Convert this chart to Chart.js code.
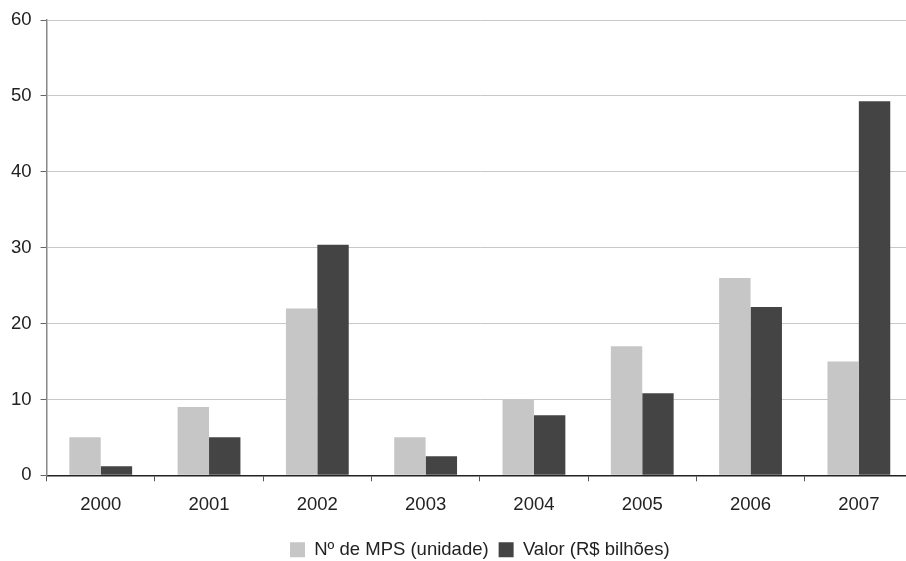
<!DOCTYPE html>
<html lang="pt">
<head>
  <meta charset="UTF-8">
  <title>MPS por ano</title>
  <script src="https://cdn.jsdelivr.net/npm/chart.js"></script>
  <style>
    * { margin: 0; padding: 0; box-sizing: border-box; }
    body { background: #fff; width: 906px; height: 561px; overflow: hidden; }
    .wrap { position: relative; width: 913px; height: 561px; }
  </style>
</head>
<body>
  <div class="wrap">
    <canvas id="chart"></canvas>
  </div>

  <script>
    const years = ['2000', '2001', '2002', '2003', '2004', '2005', '2006', '2007'];
    const numMps = [5, 9, 22, 5, 10, 17, 26, 15];
    const valorBilhoes = [1.2, 5, 30.4, 2.5, 7.9, 10.8, 22.2, 49.3];
    const yTicks = [0, 10, 20, 30, 40, 50, 60];

    // center the legend under the plot area and nudge it down a little
    const legendUnderPlot = {
      id: 'legendUnderPlot',
      beforeDraw(chart) {
        const lg = chart.legend;
        const w = lg.right - lg.left;
        const mid = (chart.chartArea.left + chart.chartArea.right) / 2;
        lg.left = mid - w / 2;
        lg.right = mid + w / 2;
        lg.top += 1;
        lg.bottom += 1;
      }
    };

    Chart.defaults.font.family = '"Liberation Sans", Arial, sans-serif';
    Chart.defaults.font.size = 18.5;
    Chart.defaults.color = '#222';

    new Chart(document.getElementById('chart'), {
      type: 'bar',
      data: {
        labels: years,
        datasets: [
          {
            label: 'Nº de MPS (unidade)',
            data: numMps,
            backgroundColor: '#c6c6c6',
            categoryPercentage: 0.58,
            barPercentage: 1.0
          },
          {
            label: 'Valor (R$ bilhões)',
            data: valorBilhoes,
            backgroundColor: '#444444',
            categoryPercentage: 0.58,
            barPercentage: 1.0
          }
        ]
      },
      options: {
        responsive: true,
        maintainAspectRatio: false,
        animation: false,
        layout: { padding: { top: 19, left: 2, right: 0, bottom: -7 } },
        scales: {
          x: {
            offset: true,
            grid: {
              offset: true,
              drawOnChartArea: false,
              drawTicks: true,
              tickLength: 6,
              tickColor: '#555'
            },
            border: { color: '#222', width: 1.5 },
            ticks: { padding: 13, color: '#222' }
          },
          y: {
            min: 0,
            max: 60,
            afterBuildTicks(scale) {
              scale.ticks = yTicks.map(v => ({ value: v }));
            },
            grid: {
              color: '#c8c8c8',
              lineWidth: 1,
              tickLength: 6,
              tickColor: '#666'
            },
            border: { color: '#888', width: 1.5 },
            ticks: { padding: 9, color: '#222' }
          }
        },
        plugins: {
          legend: {
            position: 'bottom',
            labels: {
              boxWidth: 15,
              boxHeight: 15,
              padding: 10,
              color: '#222'
            }
          },
          tooltip: { enabled: false }
        }
      },
      plugins: [legendUnderPlot]
    });
  </script>
</body>
</html>
